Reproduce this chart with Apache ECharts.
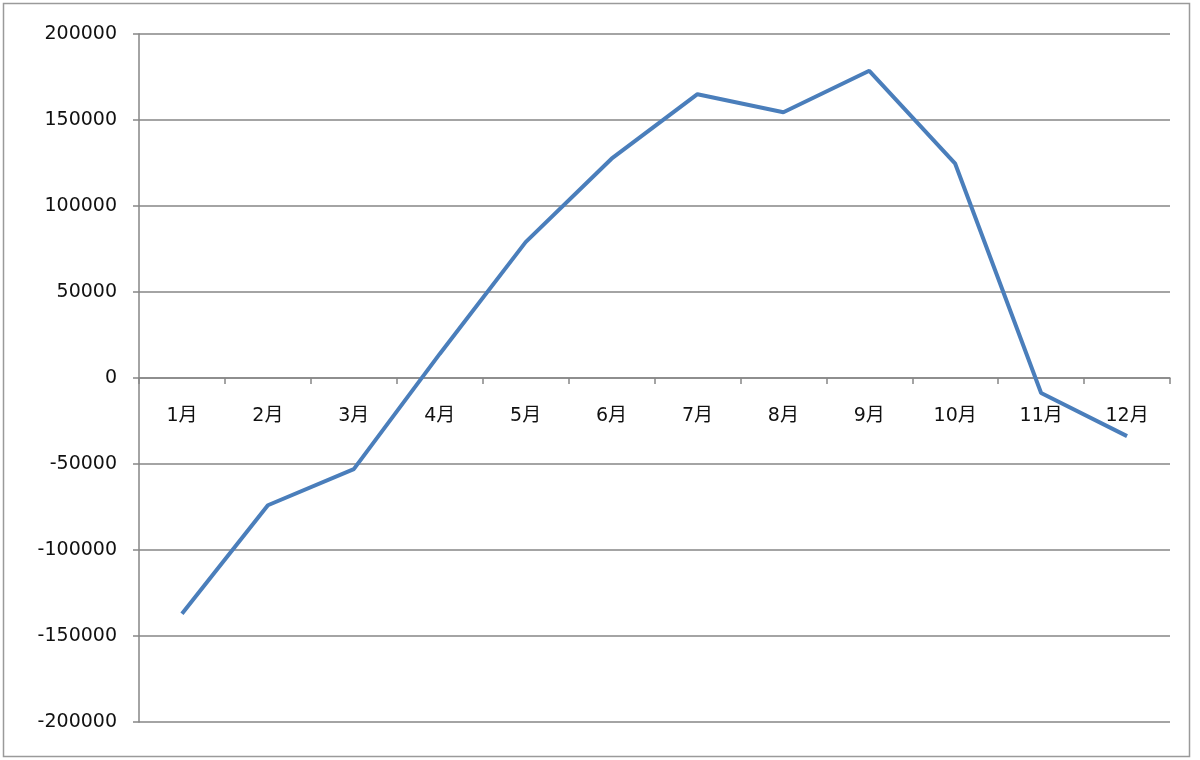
<!DOCTYPE html>
<html lang="zh-CN">
<head>
    <meta charset="UTF-8">
    <title>月别推移</title>
    <script src="https://cdn.jsdelivr.net/npm/echarts@6.0.0/dist/echarts.min.js"></script>
    <style>
        html, body { margin: 0; padding: 0; background: #fff; }
        #container { width: 1200px; height: 760px; }
    </style>
</head>
<body>
    <div id="container"></div>
    <script type="text/javascript">
        // 数据
        var months = ['1月', '2月', '3月', '4月', '5月', '6月', '7月', '8月', '9月', '10月', '11月', '12月'];
        var values = [-137000, -74000, -53000, 14000, 79000, 127500, 165000, 154500, 178600, 124600, -8700, -33800];
        var yMin = -200000, yMax = 200000, yStep = 50000;

        var font = "'DejaVu Sans', 'Noto Sans CJK SC', sans-serif";
        var gray = '#868686';
        var gridTop = 34, gridBottom = 38, H = 760;
        // 分类轴放在 0 的位置（标签一起移动）
        var plotH = H - gridTop - gridBottom;
        var zeroOffset = -plotH * (0 - yMin) / (yMax - yMin);

        var myChart = echarts.init(document.getElementById('container'));
        var option = {
            backgroundColor: '#fff',
            animation: false,
            graphic: [{
                type: 'rect',
                shape: { x: 3.5, y: 3.5, width: 1186, height: 753 },
                style: { fill: 'none', stroke: '#9a9a9a', lineWidth: 1.5 },
                z: -1
            }],
            grid: { left: 139, right: 30, top: gridTop, bottom: gridBottom },
            xAxis: {
                type: 'category',
                data: months,
                boundaryGap: true,
                position: 'bottom',
                offset: zeroOffset,
                axisLine: { onZero: false, lineStyle: { color: gray, width: 1.5 } },
                axisTick: { show: true, length: 6, lineStyle: { color: gray, width: 1.5 } },
                axisLabel: { margin: 29, color: '#111', fontSize: 19, fontFamily: font },
                splitLine: { show: false }
            },
            yAxis: {
                type: 'value',
                min: yMin,
                max: yMax,
                interval: yStep,
                axisLine: { show: true, lineStyle: { color: gray, width: 1.5 } },
                axisTick: { show: true, length: 6, lineStyle: { color: gray, width: 1.5 } },
                axisLabel: {
                    margin: 22, color: '#111', fontSize: 19, fontFamily: font,
                    formatter: function (v) { return String(v); }
                },
                splitLine: { show: true, lineStyle: { color: gray, width: 1.5 } }
            },
            series: [{
                type: 'line',
                data: values,
                symbol: 'none',
                lineStyle: { color: '#4a7ebb', width: 4 },
                itemStyle: { color: '#4a7ebb' }
            }]
        };
        myChart.setOption(option);
    </script>
</body>
</html>
